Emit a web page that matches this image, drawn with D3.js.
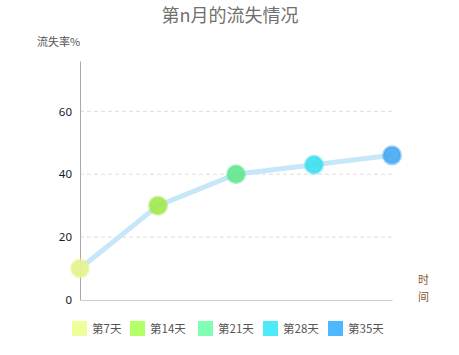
<!DOCTYPE html>
<html><head><meta charset="utf-8">
<script src="https://cdn.jsdelivr.net/npm/d3@7"></script>
<style>body{margin:0;background:#fff;font-family:"Noto Sans CJK SC","Noto Sans",sans-serif;}</style>
</head><body><svg id="c" width="459" height="355"></svg>
<script>
const categories = ["第7天","第14天","第21天","第28天","第35天"];
const values = [10, 30, 40, 43, 46];
const colors = ["#eeff99","#b3ff66","#80ffb3","#4deaf7","#4db8ff"];
const pointColors = ["#e6f28c","#a3e84c","#63e68f","#3ddfee","#45a8f2"];
const yTicks = [0, 20, 40, 60];

const svg = d3.select("#c");
const x = d3.scalePoint().domain(categories).range([80, 392]);
const y = d3.scaleLinear().domain([0, 76]).range([300, 61]);

svg.append("text").attr("x", 230).attr("y", 22).attr("text-anchor", "middle")
  .attr("font-size", 18).attr("fill", "#707070").text("第n月的流失情况");

// grid
svg.append("g").selectAll("line").data(yTicks.filter(d => d > 0)).join("line")
  .attr("x1", 80).attr("x2", 392).attr("y1", d => y(d)).attr("y2", d => y(d))
  .attr("stroke", "#ddd").attr("stroke-dasharray", "4,3");

// y axis
const ya = svg.append("g").attr("transform", "translate(80,0)")
  .call(d3.axisLeft(y).tickValues(yTicks).tickSize(0).tickPadding(8));
ya.select(".domain").attr("stroke", "#aaa");
ya.selectAll("text").attr("font-size", 11.5).attr("fill", "#1a1a2e").attr("font-family", "Noto Sans, sans-serif");

// x axis
const xa = svg.append("g").attr("transform", "translate(0,300)")
  .call(d3.axisBottom(x).tickSize(0).tickFormat(""));
xa.select(".domain").attr("stroke", "#ccc");

svg.append("text").attr("x", 37).attr("y", 46).attr("font-size", 11).attr("fill", "#555").text("流失率%");
svg.append("text").attr("x", 418).attr("y", 284).attr("font-size", 11).attr("fill", "#8a5a2a").text("时");
svg.append("text").attr("x", 418).attr("y", 301).attr("font-size", 11).attr("fill", "#8a5a2a").text("间");

// line
svg.append("path").datum(values)
  .attr("d", d3.line().x((d, i) => x(categories[i])).y(d => y(d)))
  .attr("fill", "none").attr("stroke", "#c6e7fa").attr("stroke-width", 5);

// points
svg.append("g").selectAll("circle").data(values).join("circle")
  .attr("cx", (d, i) => x(categories[i])).attr("cy", d => y(d)).attr("r", 8.5)
  .attr("fill", (d, i) => pointColors[i]).attr("fill-opacity", 0.9)
  .attr("stroke", (d, i) => pointColors[i]).attr("stroke-opacity", 0.55).attr("stroke-width", 3);

// legend
const legX = [72, 130, 198, 263, 328];
const lg = svg.append("g").selectAll("g").data(categories).join("g")
  .attr("transform", (d, i) => `translate(${legX[i]},321)`);
lg.append("rect").attr("width", 15).attr("height", 15).attr("fill", (d, i) => colors[i]);
lg.append("text").attr("x", 20).attr("y", 12).attr("font-size", 11.5).attr("fill", "#555").text(d => d);
</script></body></html>
